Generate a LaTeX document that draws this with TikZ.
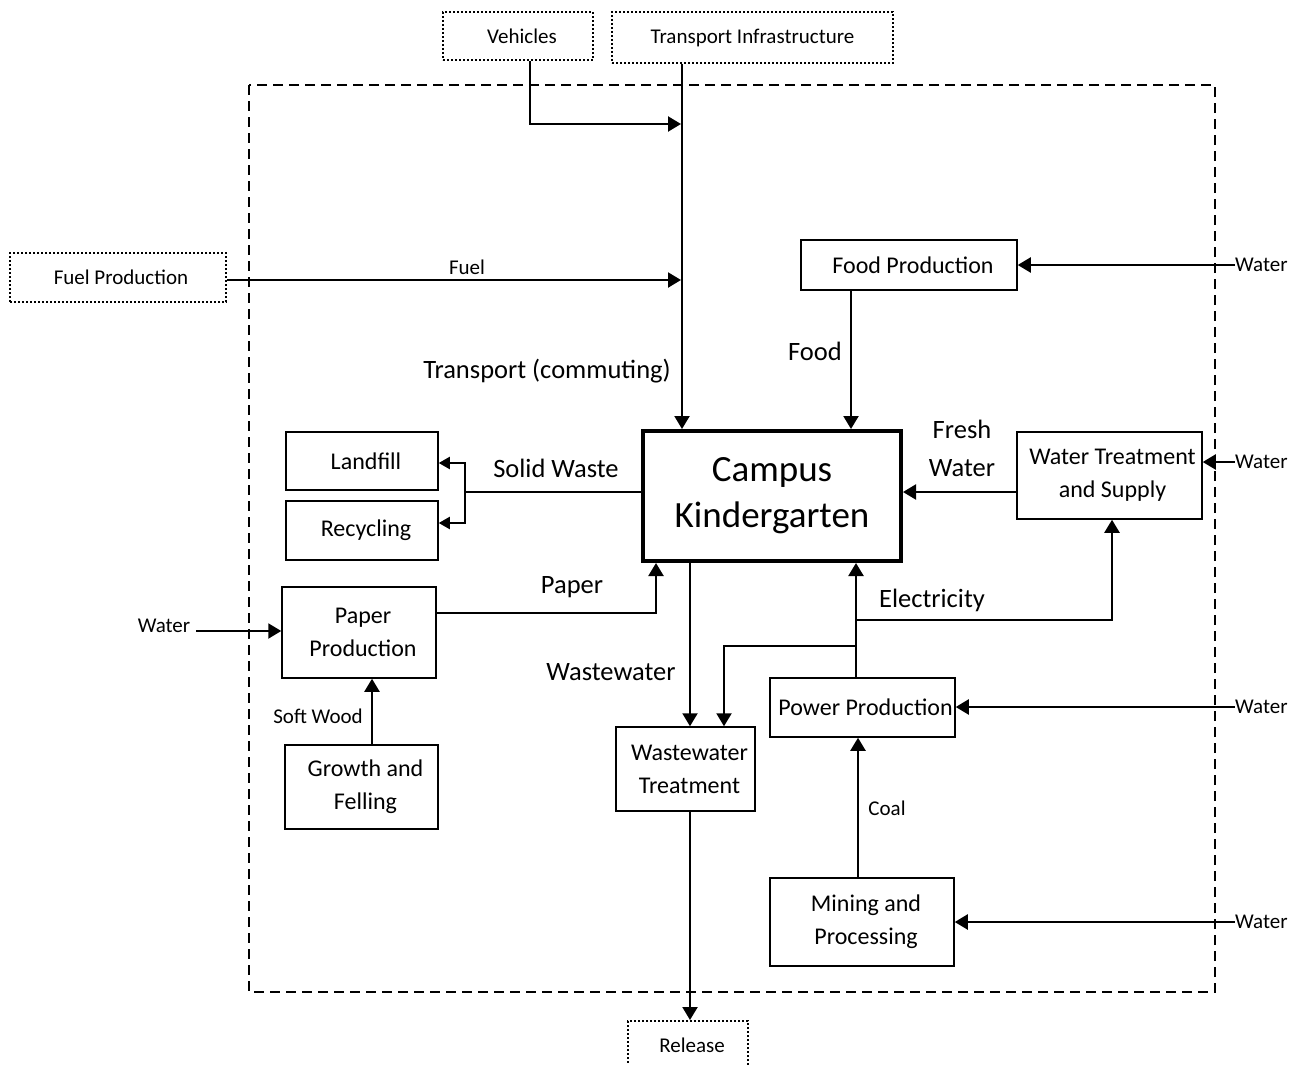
\documentclass[tikz,border=0pt]{standalone}
\usepackage{fontspec}
\setmainfont{Carlito}
\usetikzlibrary{arrows.meta,calc}
\begin{document}
\begin{tikzpicture}[x=1pt,y=-1pt,
 box/.style={draw,line width=1.5pt,inner sep=0pt,align=center,font=\fontsize{24}{33}\selectfont},
 extbox/.style={draw,dotted,line width=2pt,inner sep=0pt,align=center,font=\fontsize{21}{25}\selectfont},
 small/.style={font=\fontsize{21}{25}\selectfont,inner sep=0pt},
 med/.style={font=\fontsize{26.5}{32}\selectfont,inner sep=0pt},
 flow/.style={line width=2.2pt,-{Triangle[length=13pt,width=15pt]}},
 flowsm/.style={line width=2pt,-{Triangle[length=11pt,width=12pt]}},
 plain/.style={line width=1.5pt},
]
\useasboundingbox (0,0) rectangle (1298,1065);
% system boundary
\draw[line width=1.5pt,dash pattern=on 10pt off 6pt] (249,85) rectangle (1215,992);

% external boxes
\node[extbox,minimum width=150,minimum height=48] (vehicles) at (518,36) {\hspace*{8pt}Vehicles};
\node[extbox,minimum width=281,minimum height=51] (transinf) at (752.5,37.5) {Transport Infrastructure};
\node[extbox,minimum width=216,minimum height=49] (fuel) at (118,277.5) {\hspace*{6pt}Fuel Production};
\node[extbox,minimum width=120,minimum height=48] (release) at (688,1045) {\hspace*{8pt}Release};

% internal boxes
\node[draw,line width=4pt,inner sep=0pt,minimum width=258,minimum height=130,align=center,font=\fontsize{37}{46}\selectfont] (campus) at (772,496) {Campus\\Kindergarten};
\node[box,minimum width=216,minimum height=50] (food) at (909,265) {\hspace*{8pt}Food Production};
\node[box,minimum width=185,minimum height=87] (wts) at (1109.5,475.5) {\hspace*{6pt}Water Treatment\\\hspace*{6pt}and Supply};
\node[box,minimum width=152,minimum height=58] (landfill) at (362,461) {\hspace*{8pt}Landfill};
\node[box,minimum width=152,minimum height=59] (recycling) at (362,530.5) {\hspace*{8pt}Recycling};
\node[box,minimum width=154,minimum height=91] (paper) at (359,632.5) {\hspace*{8pt}Paper\\\hspace*{8pt}Production};
\node[box,minimum width=153,minimum height=84] (growth) at (361.5,787) {\hspace*{8pt}Growth and\\\hspace*{8pt}Felling};
\node[box,minimum width=139,minimum height=84] (wwt) at (685.5,769) {\hspace*{8pt}Wastewater\\\hspace*{8pt}Treatment};
\node[box,minimum width=185,minimum height=59] (power) at (862.5,707.5) {\hspace*{6pt}Power Production};
\node[box,minimum width=184,minimum height=88] (mining) at (862,922) {\hspace*{8pt}Mining and\\\hspace*{8pt}Processing};

% water source labels
\node[small,anchor=west] (w1) at (1235,265) {Water};
\node[small,anchor=west] (w2) at (1235,462) {Water};
\node[small,anchor=west] (w4) at (1235,707) {Water};
\node[small,anchor=west] (w5) at (1235,922) {Water};
\node[small] (w3) at (164,626) {Water};

% flow labels
\node[small] (lfuel) at (467,267) {Fuel};
\node[med] (ltrans) at (547,371) {Transport (commuting)};
\node[med] (lfood) at (815,351) {Food};
\node[med,align=center,font=\fontsize{26.5}{38}\selectfont] (lfresh) at (962,448) {Fresh\\Water};
\node[med] (lsolid) at (556,468) {Solid Waste};
\node[med] (lpaper) at (572,587) {Paper};
\node[med] (lww) at (611,672) {Wastewater};
\node[med] (lelec) at (932,600) {Electricity};
\node[small] (lsoft) at (318,716) {Soft Wood};
\node[small] (lcoal) at (887,808) {Coal};

% helper coordinates
\coordinate (tx) at (682,0);
\coordinate (vx) at (530,0);
\coordinate (vj) at (681,124);
\coordinate (fj) at (681,280);
\coordinate (fx) at (851,0);
\coordinate (sj) at (465,492);
\coordinate (w3e) at (196,631);
\coordinate (ej1) at (856,620);
\coordinate (ej2) at (856,646);

% connectors
\draw[flow] (transinf.south -| tx) -- (campus.north -| tx);
\draw[flow] (vehicles.south -| vx) |- (vj);
\draw[flow] (fuel.east |- fj) -- (fj);
\draw[flow] (food.south -| fx) -- (campus.north -| fx);
\draw[flow] (w1.west) -- (food.east |- w1.west);
\draw[flow] (w2.west) -- (wts.east |- w2.west);
\draw[flow] (wts.west |- 0,492) -- (campus.east |- 0,492);
\draw[plain] (campus.west |- sj) -- (sj);
\draw[flowsm] (sj) |- (landfill.east |- 0,463);
\draw[flowsm] (sj) |- (recycling.east |- 0,523);
\draw[flow] (paper.east |- 0,613) -| (campus.south -| 656,0);
\draw[flow] (w3e) -- (paper.west |- w3e);
\draw[flow] (growth.north -| 372,0) -- (paper.south -| 372,0);
\draw[flow] (campus.south -| 690,0) -- (wwt.north -| 690,0);
\draw[flow] (wwt.south -| 690,0) -- (release.north -| 690,0);
\draw[flow] (power.north -| ej1) -- (campus.south -| ej1);
\draw[flow] (ej1) -| (wts.south -| 1112,0);
\draw[flow] (ej2) -| (wwt.north -| 724,0);
\draw[flow] (w4.west) -- (power.east |- w4.west);
\draw[flow] (mining.north -| 858,0) -- (power.south -| 858,0);
\draw[flow] (w5.west) -- (mining.east |- w5.west);
\end{tikzpicture}
\end{document}
